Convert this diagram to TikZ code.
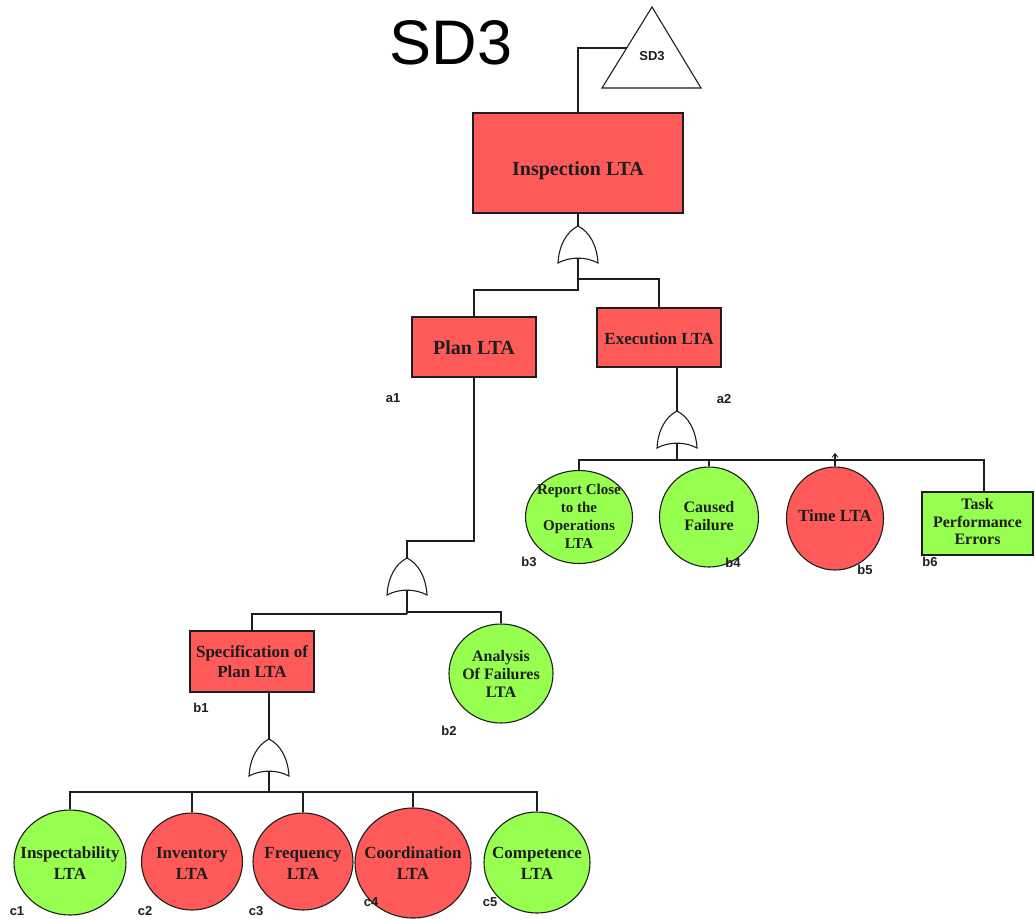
\documentclass[tikz,border=0pt]{standalone}
\usepackage{fontspec}
\setmainfont{Liberation Serif}
\newfontfamily\lsans{Liberation Sans}
\usetikzlibrary{shapes.geometric}

\definecolor{ftared}{RGB}{255,90,90}
\definecolor{ftagreen}{RGB}{150,255,80}
\definecolor{ink}{RGB}{30,30,30}

\tikzset{
  link/.style={draw=ink, line width=1.1pt},
  stub/.style={draw=ink, line width=2.2pt},
  box/.style={rectangle, draw=ink, line width=1.1pt, fill=ftared, inner sep=0pt},
  ev/.style={ellipse, draw=ink, line width=1.1pt, inner sep=0pt},
  txt/.style={align=center, inner sep=0pt, text=ink},
  tag/.style={inner sep=0pt, text=ink, font=\lsans\bfseries\fontsize{13}{13}\selectfont},
  orgate/.pic={
    \draw[link, fill=white] (0,0) .. controls (-12,6) and (-19,20) .. (-20,37)
      .. controls (-8,30.5) and (8,30.5) .. (20,37)
      .. controls (19,20) and (12,6) .. (0,0) -- cycle;
    \coordinate (-in) at (0,0);
    \coordinate (-out) at (0,32);
  }
}

\begin{document}
\begin{tikzpicture}[x=1pt, y=-1pt]
\useasboundingbox (0,0) rectangle (1035,918);

% title and transfer triangle
\node[inner sep=0pt, font=\lsans\fontsize{63}{63}\selectfont] (title) at (451,43) {SD3};
\coordinate (triA) at (652,7);
\coordinate (triB) at (701,88);
\coordinate (triC) at (602,88);
\coordinate (triL) at (627,48);
\draw[link, fill=white] (triA) -- (triB) -- (triC) -- cycle;
\node[tag] (sd3) at (652,56) {SD3};

% top event
\node[box, minimum width=210pt, minimum height=100pt] (ins) at (578,163) {};
\node[txt, font=\bfseries\fontsize{20}{22}\selectfont] (inst) at (578,171) {Inspection LTA};
\draw[link] (ins.north) |- (triL);

% first OR gate
\pic (g1) at (578,226) {orgate};
\draw[link] (ins.south) -- (g1-in);

% second level
\node[box, minimum width=124pt, minimum height=60pt] (plan) at (474,347) {};
\node[txt, font=\bfseries\fontsize{20}{22}\selectfont] (plant) at (474,348) {Plan LTA};
\node[box, minimum width=124pt, minimum height=59pt] (exec) at (659,337.5) {};
\node[txt, font=\bfseries\fontsize{17}{20}\selectfont] (exect) at (659,339) {Execution LTA};
\node[tag] (a1) at (393,398) {a1};
\node[tag] (a2) at (724,399) {a2};

\coordinate (j1a) at (578,290);
\coordinate (j1b) at (578,279);
\draw[link] (g1-out) -- (j1a) -| (plan.north);
\draw[link] (j1b) -| (exec.north);

% execution branch
\pic (g2) at (677,411) {orgate};
\draw[link] (g2-in |- exec.south) -- (g2-in);
\coordinate (bus2) at (677,460);

\node[ev, fill=ftagreen, minimum width=107pt, minimum height=93pt] (b3) at (579,517) {};
\node[txt, font=\bfseries\fontsize{15}{18}\selectfont] (b3t) at (579,516) {Report Close\\to the\\Operations\\LTA};
\node[ev, fill=ftagreen, minimum width=99pt, minimum height=100pt] (b4) at (709,517) {};
\node[txt, font=\bfseries\fontsize{16}{17.5}\selectfont] (b4t) at (709,516) {Caused\\Failure};
\node[ev, fill=ftared, minimum width=97pt, minimum height=103pt] (b5) at (835,518.5) {};
\node[txt, font=\bfseries\fontsize{17}{20}\selectfont] (b5t) at (835,516) {Time LTA};
\node[box, fill=ftagreen, minimum width=111pt, minimum height=63pt] (b6) at (977.5,523.5) {};
\node[txt, font=\bfseries\fontsize{16}{17.5}\selectfont] (b6t) at (977.5,522) {Task\\Performance\\Errors};
\coordinate (b6in) at (984,492);
\coordinate (b5tip) at (835,453.5);

\draw[stub] (g2-out) -- (bus2);
\draw[link] (b3.north) |- (bus2) -| (b6in);
\draw[stub] (bus2) -- (bus2 -| b5.north);
\draw[link] (b4.north) -- (b4.north |- bus2);
\draw[link] (b5.north) -- (b5tip);
\draw[link, line width=0.8pt] (832,457.5) -- (b5tip) -- (838,457.5);

\node[tag] (b3l) at (529,562) {b3};
\node[tag] (b4l) at (733,563) {b4};
\node[tag] (b5l) at (865,570) {b5};
\node[tag] (b6l) at (930,562) {b6};

% plan branch
\pic (g3) at (407,558) {orgate};
\coordinate (k3) at (474,541);
\draw[link] (plan.south) -- (k3) -| (g3-in);
\coordinate (j3) at (407,614);
\coordinate (j3r) at (407,612);

\node[box, minimum width=124pt, minimum height=61pt] (b1) at (252,661.5) {};
\node[txt, font=\bfseries\fontsize{17}{20}\selectfont] (b1t) at (252,662) {Specification of\\Plan LTA};
\node[ev, fill=ftagreen, minimum width=104pt, minimum height=99pt] (b2) at (501,673.5) {};
\node[txt, font=\bfseries\fontsize{16}{18}\selectfont] (b2t) at (501,674) {Analysis\\Of Failures\\LTA};

\draw[stub] (g3-out) -- (j3);
\draw[link] (j3) -| (b1.north);
\draw[link] (j3r) -| (b2.north);

\node[tag] (b1l) at (201,708) {b1};
\node[tag] (b2l) at (449,731) {b2};

% specification branch
\pic (g4) at (269,739) {orgate};
\draw[link] (g4-in |- b1.south) -- (g4-in);
\coordinate (bus4) at (269,792);

\node[ev, fill=ftagreen, minimum width=112pt, minimum height=105pt] (c1) at (70,862.5) {};
\node[txt, font=\bfseries\fontsize{17}{21}\selectfont] (c1t) at (70,863) {Inspectability\\LTA};
\node[ev, fill=ftared, minimum width=101pt, minimum height=97pt] (c2) at (192,861.5) {};
\node[txt, font=\bfseries\fontsize{17}{21}\selectfont] (c2t) at (192,863) {Inventory\\LTA};
\node[ev, fill=ftared, minimum width=100pt, minimum height=97pt] (c3) at (303,861.5) {};
\node[txt, font=\bfseries\fontsize{17}{21}\selectfont] (c3t) at (303,863) {Frequency\\LTA};
\node[ev, fill=ftared, minimum width=116pt, minimum height=110pt] (c4) at (413,863) {};
\node[txt, font=\bfseries\fontsize{17}{21}\selectfont] (c4t) at (413,863) {Coordination\\LTA};
\node[ev, fill=ftagreen, minimum width=106pt, minimum height=101pt] (c5) at (537,862.5) {};
\node[txt, font=\bfseries\fontsize{17}{21}\selectfont] (c5t) at (537,863) {Competence\\LTA};

\draw[stub] (g4-out) -- (bus4);
\draw[link] (c1.north) |- (bus4) -| (c5.north);
\draw[stub] (bus4) -- (bus4 -| c4.north);
\draw[link] (c2.north) -- (c2.north |- bus4);
\draw[link] (c3.north) -- (c3.north |- bus4);
\draw[link] (c4.north) -- (c4.north |- bus4);

\node[tag] (c1l) at (17,911) {c1};
\node[tag] (c2l) at (145,911) {c2};
\node[tag] (c3l) at (256,911) {c3};
\node[tag] (c4l) at (371,902) {c4};
\node[tag] (c5l) at (490,902) {c5};
\end{tikzpicture}
\end{document}
